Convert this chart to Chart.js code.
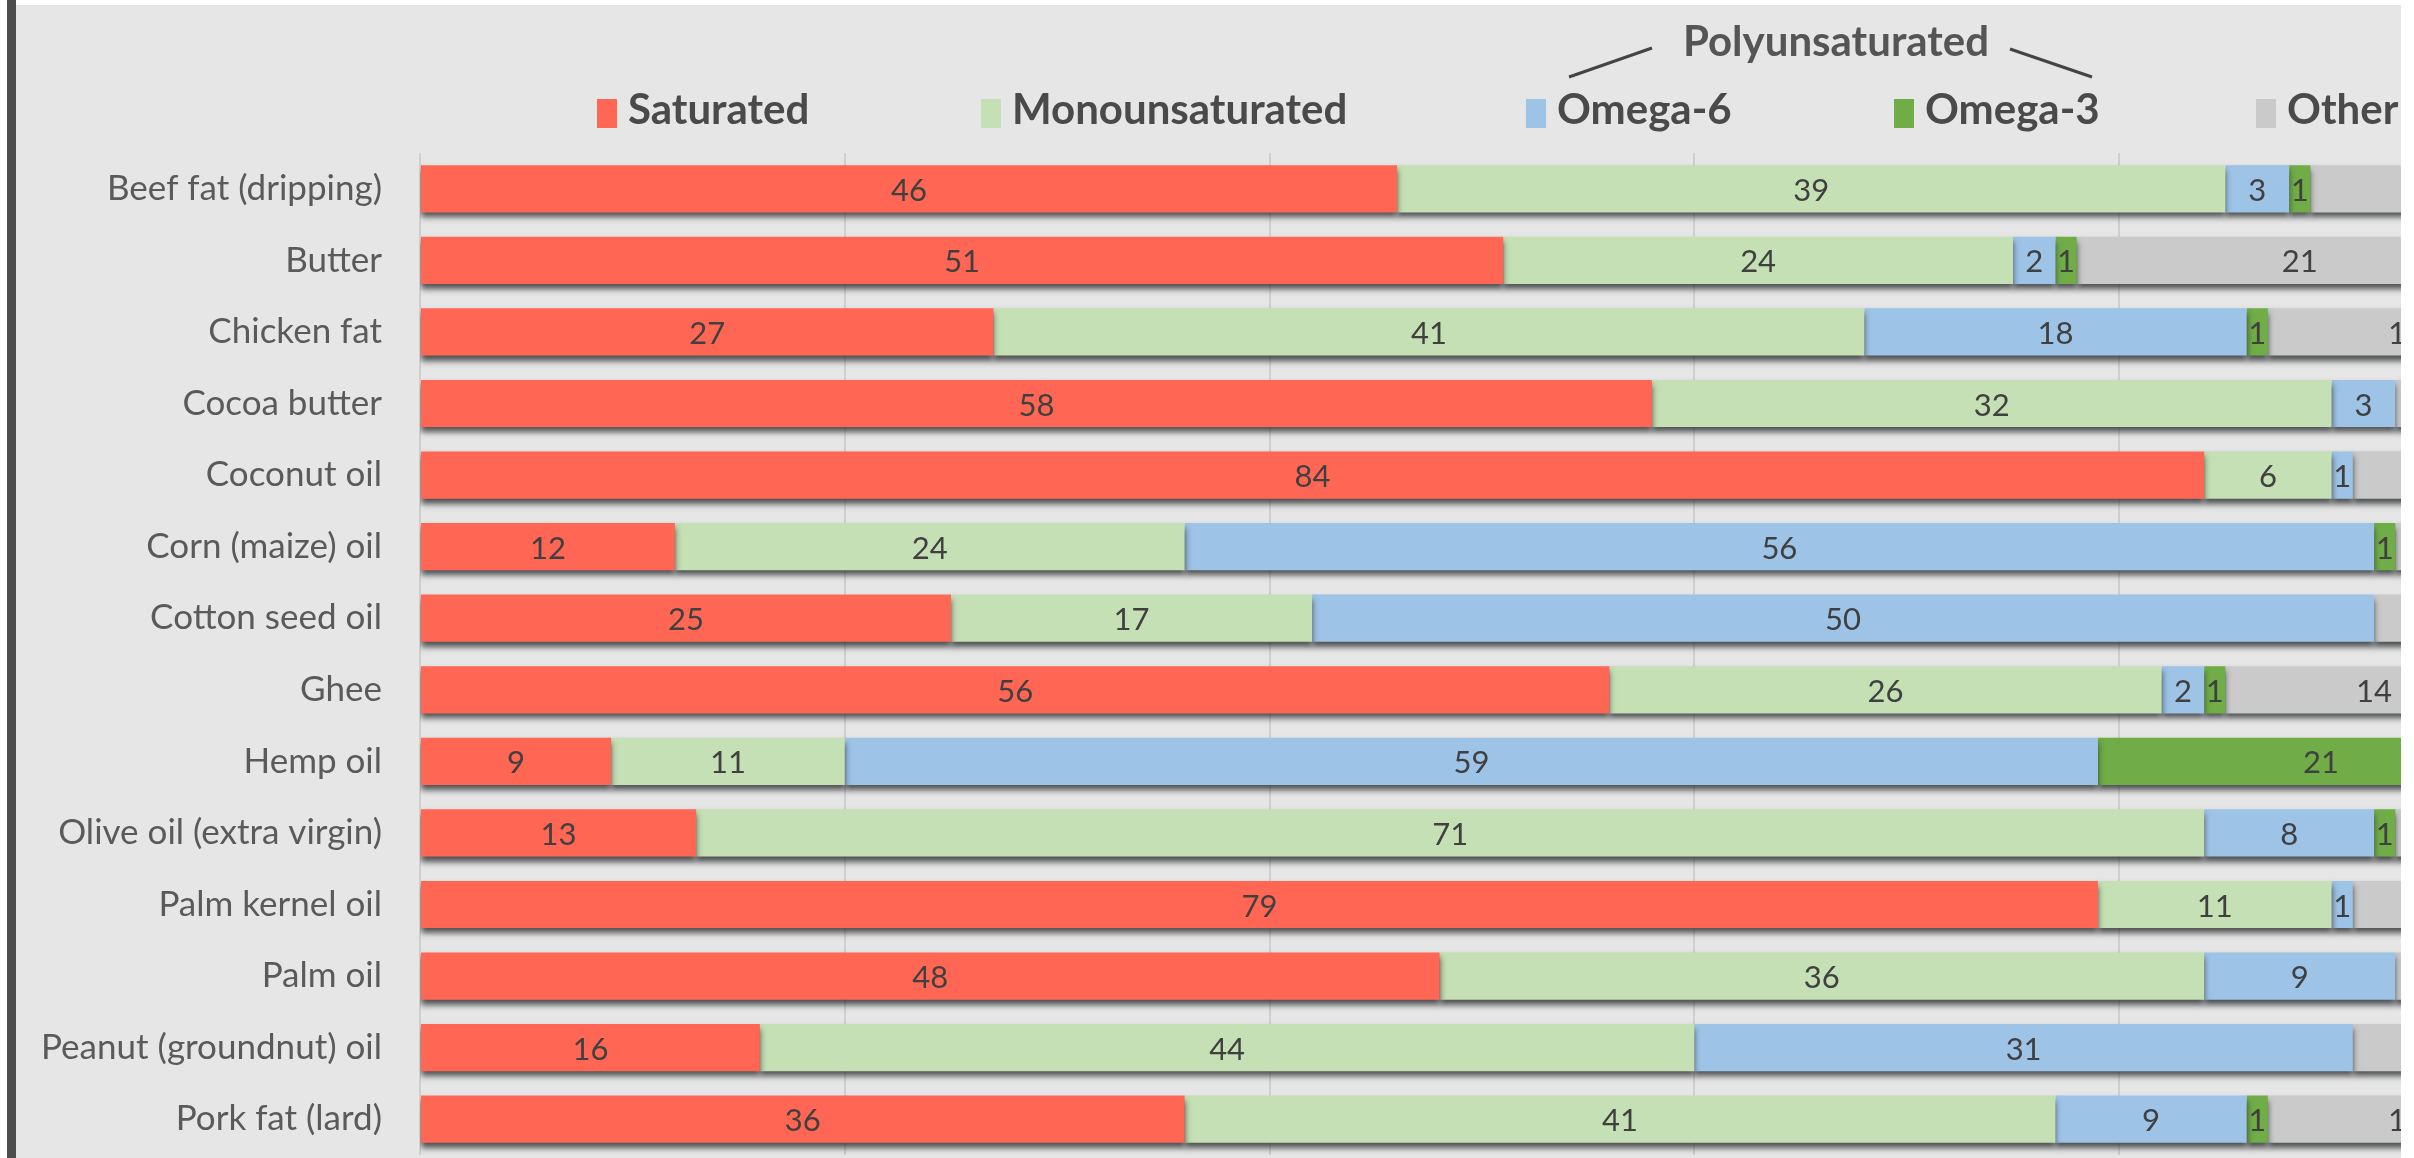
<!DOCTYPE html>
<html>
<head>
<meta charset="utf-8">
<script src="https://cdn.jsdelivr.net/npm/chart.js@4.4.1/dist/chart.umd.min.js"></script>
<style>
    html, body {
        margin: 0;
        padding: 0;
        background: #ffffff;
    }

    #frame {
        position: absolute;
        left: 0;
        top: 0;
        width: 2414px;
        height: 1158px;
        overflow: hidden;
        background: #e6e6e6;
    }

    /* bigger than the frame on purpose: the chart runs past the right and bottom edge */
    #chartBox {
        position: absolute;
        left: 0;
        top: 0;
        width: 2544px;
        height: 1214px;
    }

    .strip {
        position: absolute;
        background: #ffffff;
    }
</style>
</head>
<body>
<div id="frame">
    <div id="chartBox"><canvas id="fatChart"></canvas></div>
    <div class="strip" style="left:0;top:0;width:2414px;height:5px;"></div>
    <div class="strip" style="left:0;top:0;width:7px;height:1158px;"></div>
    <div class="strip" style="left:7px;top:0;width:9px;height:1158px;background:#4d4d4d;"></div>
    <div class="strip" style="left:2401px;top:0;width:13px;height:1158px;"></div>
</div>

<script>
const categories = [
    "Beef fat (dripping)",
    "Butter",
    "Chicken fat",
    "Cocoa butter",
    "Coconut oil",
    "Corn (maize) oil",
    "Cotton seed oil",
    "Ghee",
    "Hemp oil",
    "Olive oil (extra virgin)",
    "Palm kernel oil",
    "Palm oil",
    "Peanut (groundnut) oil",
    "Pork fat (lard)"
];

const seriesNames = ["Saturated", "Monounsaturated", "Omega-6", "Omega-3", "Other"];

const saturated = [46, 51, 27, 58, 84, 12, 25, 56, 9, 13, 79, 48, 16, 36];
const monounsaturated = [39, 24, 41, 32, 6, 24, 17, 26, 11, 71, 11, 36, 44, 41];
const omega6 = [3, 2, 18, 3, 1, 56, 50, 2, 59, 8, 1, 9, 31, 9];
const omega3 = [1, 1, 1, 0, 0, 1, 0, 1, 21, 1, 0, 0, 0, 1];
const other = [11, 21, 13, 7, 9, 7, 8, 14, 0, 7, 9, 7, 9, 13];

const xTicks = [0, 20, 40, 60, 80, 100];

const colors = ["#ff6654", "#c5e0b4", "#9dc3e6", "#70ad47", "#cacaca"];

const FONT = "Lato, 'Open Sans', sans-serif";

// drop shadow under every bar segment
const barShadow = {
    id: "barShadow",
    beforeDatasetsDraw(chart) {
        const ctx = chart.ctx;
        ctx.save();
        ctx.shadowColor = "rgba(40,42,45,0.8)";
        ctx.shadowBlur = 6;
        ctx.shadowOffsetY = 5;
    },
    afterDatasetsDraw(chart) {
        chart.ctx.restore();
    }
};

// value printed in the middle of each segment
const segmentLabels = {
    id: "segmentLabels",
    afterDatasetsDraw(chart) {
        const ctx = chart.ctx;
        ctx.save();
        ctx.font = `31px ${FONT}`;
        ctx.fillStyle = "#404040";
        ctx.textAlign = "center";
        ctx.textBaseline = "middle";

        chart.data.datasets.forEach((ds, i) => {
            const meta = chart.getDatasetMeta(i);
            meta.data.forEach((bar, j) => {
                const v = ds.data[j];
                if (!v) return;
                ctx.fillText(String(v), (bar.x + bar.base) / 2, bar.y + 2);
            });
        });

        ctx.restore();
    }
};

// legend row plus the "Polyunsaturated" bracket above Omega-6 / Omega-3
const fatLegend = {
    id: "fatLegend",
    afterDraw(chart, args, opts) {
        const ctx = chart.ctx;
        ctx.save();

        ctx.font = `bold 42px ${FONT}`;
        ctx.textAlign = "left";
        ctx.textBaseline = "alphabetic";

        chart.data.datasets.forEach((ds, i) => {
            const x = opts.itemX[i];
            ctx.fillStyle = ds.backgroundColor;
            ctx.fillRect(x, 99, 20, 29);
            ctx.fillStyle = "#4a4a4a";
            ctx.fillText(ds.label, x + 31, 124);
        });

        ctx.fillStyle = "#555555";
        ctx.textAlign = "center";
        ctx.fillText("Polyunsaturated", 1836, 56);

        ctx.strokeStyle = "#444444";
        ctx.lineWidth = 3;
        ctx.beginPath();
        ctx.moveTo(1569, 77);
        ctx.lineTo(1652, 48);
        ctx.moveTo(2010, 49);
        ctx.lineTo(2092, 77);
        ctx.stroke();

        ctx.restore();
    }
};

function buildDatasets() {
    const values = [saturated, monounsaturated, omega6, omega3, other];
    return values.map((arr, i) => ({
        label: seriesNames[i],
        data: arr,
        backgroundColor: colors[i],
        borderWidth: 0,
        categoryPercentage: 1,
        barPercentage: 0.66
    }));
}

function drawChart() {
    const ctx = document.getElementById("fatChart");

    new Chart(ctx, {
        type: "bar",

        data: {
            labels: categories,
            datasets: buildDatasets()
        },

        options: {
            indexAxis: "y",
            responsive: true,
            maintainAspectRatio: false,
            animation: false,

            layout: {
                padding: { top: 153, bottom: 3, right: 0, left: 0 }
            },

            plugins: {
                legend: { display: false },
                tooltip: { enabled: false },
                fatLegend: {
                    itemX: [597, 981, 1526, 1894, 2256]
                }
            },

            scales: {
                x: {
                    stacked: true,
                    min: xTicks[0],
                    max: xTicks[xTicks.length - 1],
                    afterBuildTicks: scale => {
                        scale.ticks = xTicks.map(v => ({ value: v }));
                    },
                    afterFit: scale => {
                        scale.height = 0;
                    },
                    ticks: { display: false },
                    border: { display: false },
                    grid: {
                        color: "#cfcfcf",
                        lineWidth: 2,
                        drawTicks: false
                    }
                },

                y: {
                    stacked: true,
                    afterFit: scale => {
                        scale.width = 420;
                    },
                    ticks: {
                        color: "#5a5a5a",
                        padding: 38,
                        font: { family: FONT, size: 35 }
                    },
                    border: { display: false },
                    grid: { display: false, drawTicks: false }
                }
            }
        },

        plugins: [barShadow, segmentLabels, fatLegend]
    });
}

document.fonts.load(`bold 42px Lato`).then(() => document.fonts.load(`35px Lato`)).then(drawChart, drawChart);
</script>
</body>
</html>
